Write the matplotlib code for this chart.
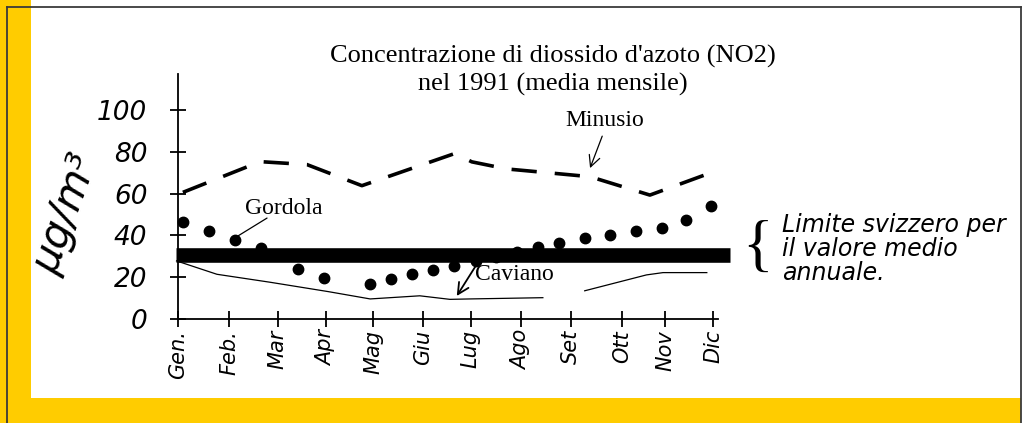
import matplotlib

matplotlib.use("Agg")
import matplotlib.pyplot as plt
from matplotlib.patches import Rectangle
from matplotlib.lines import Line2D

# --- data (x in months, Gen = 0) ---
MONTHS = ["Gen.", "Feb.", "Mar", "Apr", "Mag", "Giu", "Lug", "Ago", "Set", "Ott", "Nov", "Dic"]
MONTH_POS = [0, 1.05, 2.05, 3.04, 4.01, 5.03, 6.02, 7.06, 8.07, 9.12, 10.02, 11.0]
Y_TICKS = [0, 20, 40, 60, 80, 100]

minusio_x = [0.10, 1.69, 2.65, 3.78, 5.69, 6.04, 6.76, 7.23, 8.47, 9.70, 10.99]
minusio_y = [60.6, 75.3, 73.9, 63.8, 79.2, 75.2, 71.8, 70.8, 68.1, 59.3, 70.3]

gordola_x = [0.10, 0.64, 1.18, 1.71, 2.47, 3.01, 3.95, 4.38, 4.82, 5.25, 5.68,
             6.12, 6.54, 6.97, 7.40, 7.83, 8.36, 8.88, 9.41, 9.94, 10.44, 10.95]
gordola_y = [46.6, 42.2, 37.9, 33.8, 23.9, 19.6, 16.7, 19.0, 21.4, 23.4, 25.5,
             27.8, 29.5, 32.2, 34.4, 36.5, 38.8, 40.3, 42.0, 43.4, 47.2, 54.2]

# two drawn pieces, a gap between Ago and Set
caviano_x = [-0.03, 0.80, 1.89, 3.09, 3.95, 4.97, 5.59, 6.00, 7.50, float("nan"),
             8.36, 9.63, 9.97, 10.87]
caviano_y = [27.8, 21.4, 17.6, 13.1, 9.6, 11.1, 9.4, 9.6, 10.2, float("nan"),
             13.5, 21.1, 22.2, 22.2]

LIMIT = 30.5
LIMIT_SPAN = [-0.04, 11.34]

W, H = 1024, 423
YELLOW = "#FFCC00"
FRAME = "#3a3a3a"
SERIF = "Liberation Serif"
HAND = dict(family="DejaVu Sans", style="italic")

fig = plt.figure(figsize=(W / 100, H / 100), dpi=100, facecolor="white")

# yellow slide border + thin frame
fig.patches.append(Rectangle((0, 0), 31 / W, 1, transform=fig.transFigure,
                             facecolor=YELLOW, edgecolor="none", zorder=0))
fig.patches.append(Rectangle((0, 0), 1021 / W, 25 / H, transform=fig.transFigure,
                             facecolor=YELLOW, edgecolor="none", zorder=0))
for xs, ys in [([7 / W, 7 / W], [0, 1 - 7 / H]),
               ([7 / W, 1021 / W], [1 - 7 / H, 1 - 7 / H]),
               ([1021 / W, 1021 / W], [0, 1 - 7 / H])]:
    fig.add_artist(Line2D(xs, ys, transform=fig.transFigure, color=FRAME, lw=1.3))

ax = fig.add_axes([178 / W, (H - 319) / H, 540 / W, 244.5 / H])
ax.set_xlim(0, 11.1)
ax.set_ylim(0, 117)
ax.patch.set_alpha(0)
for s in ["top", "right"]:
    ax.spines[s].set_visible(False)
for s in ["left", "bottom"]:
    ax.spines[s].set_linewidth(1.3)

ax.set_xticks(MONTH_POS)
ax.set_xticklabels(MONTHS, rotation=90, fontsize=15, **HAND)
ax.set_yticks(Y_TICKS)
ax.set_yticklabels([str(v) for v in Y_TICKS], fontsize=19, **HAND)
ax.tick_params(axis="x", direction="inout", length=12, width=1.3, pad=2)
ax.tick_params(axis="y", direction="inout", length=12, width=1.3, pad=16)

# Swiss annual limit
ax.plot(LIMIT_SPAN, [LIMIT, LIMIT], color="black", lw=10.5, solid_capstyle="butt",
        clip_on=False, zorder=3)
# Minusio (dashed), Gordola (dots), Caviano (thin line)
ax.plot(minusio_x, minusio_y, color="black", lw=2.6, dashes=(7, 5), clip_on=False)
ax.plot(gordola_x, gordola_y, "o", color="black", ms=7.5, clip_on=False, zorder=4)
ax.plot(caviano_x, caviano_y, color="black", lw=0.9, clip_on=False)

# labels of the series
ax.text(8.78, 95.2, "Minusio", fontsize=17, family=SERIF, ha="center", va="center")
ax.annotate("", xy=(8.47, 72.2), xytext=(8.72, 87.5),
            arrowprops=dict(arrowstyle="->", lw=0.9, color="black", shrinkA=0, shrinkB=0,
                            mutation_scale=20))
ax.text(2.18, 53.1, "Gordola", fontsize=17, family=SERIF, ha="center", va="center")
ax.annotate("", xy=(1.23, 39.7), xytext=(1.83, 48.3),
            arrowprops=dict(arrowstyle="-", lw=0.9, color="black", shrinkA=0, shrinkB=0))
ax.text(6.10, 21.3, "Caviano", fontsize=17, family=SERIF, ha="left", va="center")
ax.annotate("", xy=(5.73, 11.0), xytext=(6.12, 25.4),
            arrowprops=dict(arrowstyle="->", lw=1.3, color="black", shrinkA=0, shrinkB=0,
                            mutation_scale=20))

# y unit, handwritten and slanted
fig.text(66 / W, 1 - 213 / H, "µg/m³", fontsize=30, rotation=70,
         ha="center", va="center", **HAND)

fig.text(553 / W, 1 - 45 / H, "Concentrazione di diossido d'azoto (NO2)\nnel 1991 (media mensile)",
         fontsize=19, family=SERIF, ha="center", va="top", linespacing=1.3)

# note on the right
fig.text(773 / W, 1 - 250 / H, "{", fontsize=46, ha="right", va="center",
         family=SERIF)
fig.text(782 / W, 1 - 249 / H, "Limite svizzero per\nil valore medio\nannuale.",
         fontsize=17, ha="left", va="center", linespacing=1.0, **HAND)

fig.savefig("out.png", dpi=100)
